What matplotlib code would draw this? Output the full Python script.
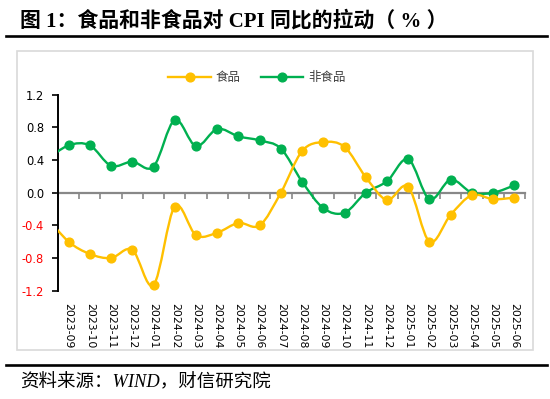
import numpy as np
import matplotlib
matplotlib.use("Agg")
import matplotlib.pyplot as plt
from matplotlib.path import Path
from matplotlib.patches import PathPatch, Rectangle
from matplotlib.lines import Line2D

plt.rcParams['font.family'] = ['Noto Sans CJK SC', 'DejaVu Sans']

# 2023-08 sits just left of the visible range (the reference line enters from the edge)
months = ['2023-08', '2023-09', '2023-10', '2023-11', '2023-12', '2024-01', '2024-02',
          '2024-03', '2024-04', '2024-05', '2024-06', '2024-07', '2024-08', '2024-09',
          '2024-10', '2024-11', '2024-12', '2025-01', '2025-02', '2025-03', '2025-04',
          '2025-05', '2025-06']
food = [-0.31, -0.60, -0.75, -0.80, -0.70, -1.13, -0.17, -0.52, -0.49, -0.37, -0.40,
        0.00, 0.51, 0.62, 0.56, 0.19, -0.09, 0.07, -0.60, -0.27, -0.03, -0.08, -0.06]
nonfood = [0.41, 0.58, 0.58, 0.33, 0.38, 0.32, 0.89, 0.57, 0.78, 0.69, 0.64,
           0.54, 0.135, -0.19, -0.245, 0.00, 0.14, 0.41, -0.08, 0.16, 0.00, 0.00, 0.09]

x = np.arange(len(months)) - 1

ORANGE = '#FFC000'
GREEN = '#00B050'


def smooth_path(xs, ys):
    # excel-like smoothed line: catmull-rom turned into cubic bezier segments
    pts = np.column_stack([xs, ys]).astype(float)
    verts = [pts[0]]
    codes = [Path.MOVETO]
    n = len(pts)
    for i in range(n - 1):
        p0 = pts[i - 1] if i > 0 else pts[i]
        p1 = pts[i]
        p2 = pts[i + 1]
        p3 = pts[i + 2] if i + 2 < n else pts[i + 1]
        c1 = p1 + (p2 - p0) / 6.0
        c2 = p2 - (p3 - p1) / 6.0
        verts += [c1, c2, p2]
        codes += [Path.CURVE4] * 3
    return Path(verts, codes)


fig = plt.figure(figsize=(5.5, 3.99), dpi=100)
W, H = 550.0, 399.0

ax = fig.add_axes([58 / W, 1 - 290.7 / H, (525 - 58) / W, (290.7 - 94.7) / H])

for ys, c in [(nonfood, GREEN), (food, ORANGE)]:
    patch = PathPatch(smooth_path(x, ys), facecolor='none', edgecolor=c, lw=1.7, zorder=3)
    ax.add_patch(patch)
    ax.plot(x, ys, linestyle='none', marker='o', ms=6.3, color=c, zorder=4)

ax.set_xlim(-0.5, 21.5)
ax.set_ylim(-1.2, 1.2)

for s in ['top', 'right']:
    ax.spines[s].set_visible(False)
ax.spines['left'].set_color('black')
ax.spines['left'].set_linewidth(1.4)
ax.spines['bottom'].set_position(('data', 0))
ax.spines['bottom'].set_color('#888888')
ax.spines['bottom'].set_linewidth(1.6)
ax.spines['bottom'].set_zorder(2)

ax.set_xticks(np.arange(-0.5, 22, 1))
ax.set_xticklabels([])
ax.tick_params(axis='x', direction='out', length=4, width=1.2, color='#888888')

yt = [-1.2, -0.8, -0.4, 0.0, 0.4, 0.8, 1.2]
ax.set_yticks(yt)
ax.set_yticklabels(['%.1f' % v for v in yt], fontsize=8.3, family='DejaVu Sans')
ax.tick_params(axis='y', direction='out', length=4, width=1.2, color='black', pad=6)
for lab, v in zip(ax.get_yticklabels(), yt):
    lab.set_color('#FF0000' if v < 0 else 'black')

sec = ax.secondary_xaxis(0.0)
sec.set_xticks(np.arange(0, 22))
sec.set_xticklabels(months[1:], rotation=270, fontsize=7.8, family='DejaVu Sans')
sec.tick_params(length=0, pad=9)
sec.spines['bottom'].set_visible(False)

handles = [Line2D([], [], color=ORANGE, lw=1.7, marker='o', ms=6.3),
           Line2D([], [], color=GREEN, lw=1.7, marker='o', ms=6.3)]
fig.legend(handles, ['食品', '非食品'], loc='center', bbox_to_anchor=(257 / W, 1 - 78 / H),
           ncol=2, frameon=False, fontsize=9, handlelength=3.4, columnspacing=1.6,
           handletextpad=0.4, labelcolor='#404040')

# chart frame, title and source
fig.add_artist(Rectangle((17 / W, 1 - 350 / H), (533 - 17) / W, (350 - 51) / H,
                         transform=fig.transFigure, fill=False, edgecolor='#D9D9D9', lw=1.2))
fig.text(20 / W, 1 - 21 / H, '图 1：食品和非食品对 CPI 同比的拉动（ % ）', fontsize=15,
         fontweight='bold', ha='left', va='center',
         family=['Liberation Serif', 'Noto Sans CJK SC'])
fig.add_artist(Line2D([6 / W, 547 / W], [1 - 36 / H] * 2, color='black', lw=1.9))
fig.add_artist(Line2D([6 / W, 547 / W], [1 - 365 / H] * 2, color='black', lw=1.9))
fig.text(20 / W, 1 - 383 / H, '资料来源：WIND，财信研究院', fontsize=13.3, style='italic',
         ha='left', va='center', family=['Liberation Serif', 'Noto Sans CJK SC'])

fig.savefig('out.png', dpi=100)
